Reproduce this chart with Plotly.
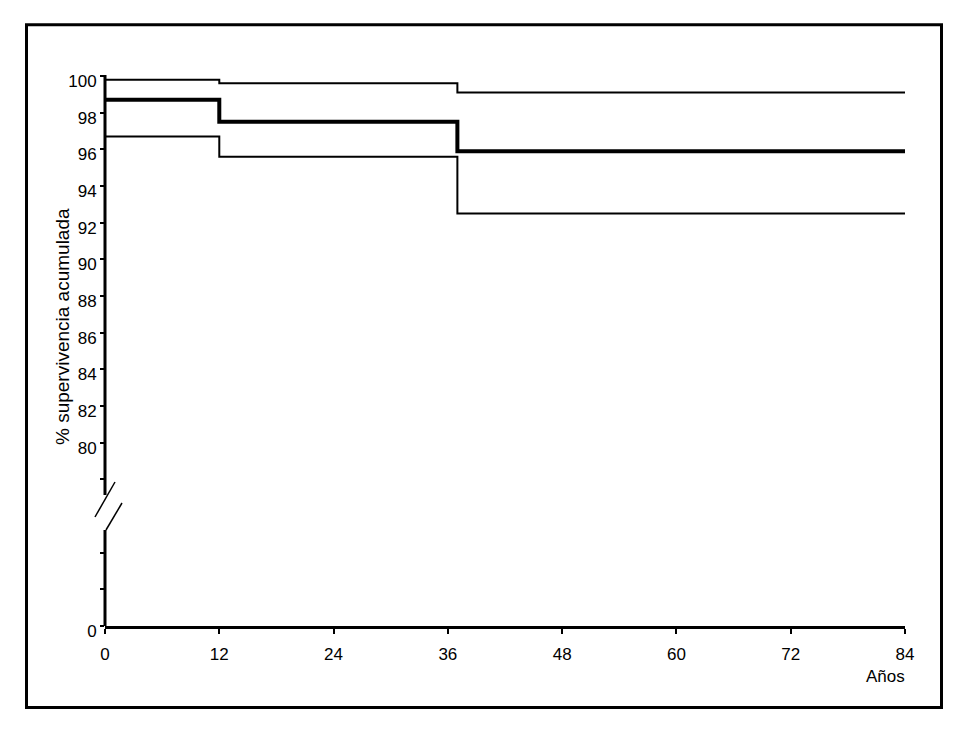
import plotly.graph_objects as go

# Data (months vs cumulative survival %)
months = [0, 12, 37, 84]
survival = [98.7, 97.5, 95.9, 95.9]
upper_ci = [99.8, 99.6, 99.1, 99.1]
lower_ci = [96.7, 95.6, 92.5, 92.5]

x_ticks = [0, 12, 24, 36, 48, 60, 72, 84]
# y-axis is broken: value 70 on the axis is labelled "0"
y_tickvals = [70, 72, 74, 78, 80, 82, 84, 86, 88, 90, 92, 94, 96, 98, 100]
y_ticktext = ["0", "", "", "", "80", "82", "84", "86", "88", "90", "92", "94", "96", "98", "100"]

FONT = "Arial, Liberation Sans, sans-serif"

OFF = 8  # page body margin
W, H = 969 - OFF, 729 - OFF
# plot area in page pixels: x 105..905, y 76..626
PL, PR, PT, PB = 105, 905, 76, 626
L, R, T, B = PL - OFF, W - (PR - OFF), PT - OFF, H - (PB - OFF)


def px(x):
    return (x - PL) / (PR - PL)


def py(y):
    return (PB - y) / (PB - PT)


fig = go.Figure()
for vals, w in [(upper_ci, 2), (lower_ci, 2), (survival, 4)]:
    fig.add_trace(go.Scatter(x=months, y=vals, mode="lines", line=dict(color="black", width=w, shape="hv"),
                             showlegend=False, hoverinfo="skip"))

shapes = [
    # outer frame
    dict(type="rect", xref="paper", yref="paper", x0=px(26.5), x1=px(941.5), y0=py(707.5), y1=py(24.7),
         line=dict(color="black", width=3)),
    # y-axis upper segment
    dict(type="line", xref="paper", yref="paper", x0=0, x1=0, y0=py(75), y1=py(495),
         line=dict(color="black", width=3)),
    # y-axis lower segment
    dict(type="line", xref="paper", yref="paper", x0=0, x1=0, y0=py(530), y1=py(626),
         line=dict(color="black", width=3)),
    # break slashes
    dict(type="line", xref="paper", yref="paper", x0=px(115), x1=px(95), y0=py(482), y1=py(517),
         line=dict(color="black", width=1.5)),
    dict(type="line", xref="paper", yref="paper", x0=px(122), x1=px(106), y0=py(503), y1=py(530),
         line=dict(color="black", width=1.5)),
]

fig.update_layout(
    width=W, height=H,
    margin=dict(l=L, r=R, t=T, b=B),
    plot_bgcolor="white", paper_bgcolor="white",
    font=dict(family=FONT, color="black", size=17),
    shapes=shapes,
    xaxis=dict(range=[0, 84], tickvals=x_ticks, ticktext=[str(v) for v in x_ticks],
               showgrid=False, zeroline=False, showline=True, linecolor="black", linewidth=3,
               ticks="outside", ticklen=5, tickwidth=2, tickcolor="black",
               tickfont=dict(size=17, family=FONT, color="black"), ticklabelstandoff=6),
    yaxis=dict(range=[70, 100], tickvals=y_tickvals, ticktext=y_ticktext,
               showgrid=False, zeroline=False, showline=False,
               ticks="outside", ticklen=4, tickwidth=2, tickcolor="black",
               tickfont=dict(size=17, family=FONT, color="black"), ticklabelshift=5),
    annotations=[
        dict(text="Años", xref="paper", yref="paper", x=px(907), y=py(676), xanchor="right", yanchor="middle",
             showarrow=False, font=dict(size=17, family=FONT, color="black")),
        dict(text="% supervivencia acumulada", xref="paper", yref="paper", x=px(62), y=py(327),
             xanchor="center", yanchor="middle", textangle=-90, showarrow=False,
             font=dict(size=19, family=FONT, color="black")),
    ],
)

fig.write_html("out.html")
